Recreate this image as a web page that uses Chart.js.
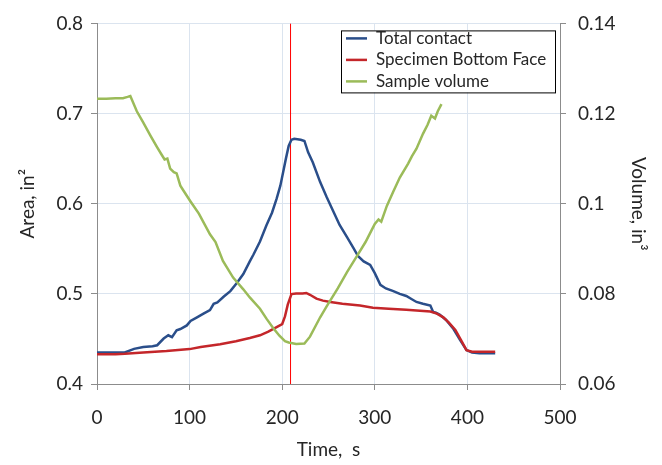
<!DOCTYPE html>
<html>
<head>
<meta charset="utf-8">
<script src="https://cdn.jsdelivr.net/npm/chart.js@4.4.1/dist/chart.umd.min.js"></script>
<style>
html,body{margin:0;padding:0;background:#fff;}
#wrap{width:662px;height:465px;}
</style>
</head>
<body>
<div id="wrap"><canvas id="c" width="662" height="465"></canvas></div>
<script>
// ---- data ----
const contactTime = [0,10,20,30,40,50,60,65,72,77,81,86,90,97,101,108,115,122,126,130,137,144,151,158,165,169,176,183,189,194,198,201,204,207,210,213,220,224,228,233,241,248,255,262,270,277,282,288,295,300,306,312,320,327,334,340,345,352,360,363,366,370,377,385,392,399,405,413,420,430];
const contactArea = [0.435,0.435,0.435,0.435,0.439,0.441,0.442,0.443,0.4504,0.454,0.452,0.4595,0.461,0.465,0.470,0.474,0.478,0.482,0.489,0.4905,0.497,0.503,0.512,0.522,0.536,0.5436,0.558,0.576,0.590,0.6056,0.620,0.635,0.650,0.664,0.671,0.672,0.671,0.6696,0.657,0.646,0.624,0.6075,0.592,0.5764,0.563,0.5508,0.5417,0.536,0.532,0.523,0.510,0.506,0.503,0.500,0.4976,0.494,0.491,0.489,0.487,0.480,0.479,0.477,0.471,0.461,0.449,0.4376,0.435,0.434,0.434,0.434];

const bottomTime = [0,20,30,50,75,100,112,133,150,165,176,185,192,200,203,206,210,215,222,226,230,237,244,252,265,284,298,315,334,345,360,367,374,380,387,394,399,405,413,430];
const bottomArea = [0.433,0.433,0.4335,0.435,0.4365,0.4387,0.441,0.444,0.4475,0.451,0.454,0.458,0.462,0.4665,0.475,0.488,0.4997,0.5005,0.5005,0.501,0.499,0.4947,0.4925,0.491,0.489,0.487,0.4846,0.4835,0.4824,0.4815,0.4803,0.478,0.474,0.468,0.460,0.447,0.4376,0.4357,0.4357,0.4357];

const volumeTime = [0,10,20,28,33,36,43,50,58,65,70,73,76,79,83,86,90,94,101,110,122,128,136,147,158,165,176,183,190,197,203,207,215,224,230,241,248,260,270,282,290,297,300,304,307,313,320,327,336,340,345,352,357,361,365,368,372];
const volumeValues = [0.1233,0.1233,0.1234,0.1234,0.1237,0.1239,0.1205,0.118,0.115,0.1125,0.1108,0.1098,0.1100,0.1078,0.107,0.1067,0.104,0.1027,0.1005,0.0978,0.0932,0.0915,0.0873,0.0836,0.081,0.0792,0.0767,0.0745,0.0725,0.0707,0.0695,0.0692,0.0689,0.069,0.0705,0.0748,0.0772,0.0812,0.0848,0.0888,0.0915,0.0943,0.0955,0.0965,0.096,0.0995,0.1027,0.1058,0.1089,0.1105,0.1122,0.1155,0.1175,0.1195,0.1189,0.1205,0.1221];

const markerTime = 209;
const timeTicks = [0,100,200,300,400,500];
const areaTicks = [0.4,0.5,0.6,0.7,0.8];
const volumeTicks = [0.06,0.08,0.10,0.12,0.14];
const seriesLabels = ['Total contact','Specimen Bottom Face','Sample volume'];

// ---- styles ----
const FONT = 'Lato, "Open Sans", sans-serif';
const TXT = '#262626';
const GRID = '#dbe4ef';
const AXIS = '#8c8c8c';
const colors = ['#2a4e8a','#c4262a','#9bbb59'];

function pts(xs, ys){ return xs.map((x,i)=>({x:x,y:ys[i]})); }
function fmt(v){ return String(Number(v.toFixed(2))); }

const legendPlugin = {
  id:'boxLegend',
  afterDatasetsDraw(chart){
    const ctx = chart.ctx, ca = chart.chartArea;
    const x0 = ca.left + 244, y0 = ca.top + 7, w = 214, h = 62;
    ctx.save();
    ctx.fillStyle = '#fff';
    ctx.fillRect(x0, y0, w, h);
    ctx.strokeStyle = '#000'; ctx.lineWidth = 1;
    ctx.strokeRect(x0+0.5, y0+0.5, w, h);
    ctx.font = '17px ' + FONT;
    ctx.textBaseline = 'middle';
    for (let i=0;i<3;i++){
      const yy = y0 + 8 + i*21.5;
      ctx.strokeStyle = colors[i]; ctx.lineWidth = 2.5;
      ctx.beginPath(); ctx.moveTo(x0+5, yy); ctx.lineTo(x0+26, yy); ctx.stroke();
      ctx.fillStyle = TXT;
      ctx.fillText(seriesLabels[i], x0+35, yy);
    }
    ctx.restore();
  }
};

new Chart(document.getElementById('c'), {
  type:'line',
  data:{
    datasets:[
      {label:seriesLabels[2], data:pts(volumeTime, volumeValues), yAxisID:'yVol', borderColor:colors[2], borderWidth:2.5, pointRadius:0, tension:0},
      {label:seriesLabels[1], data:pts(bottomTime, bottomArea), yAxisID:'y', borderColor:colors[1], borderWidth:2.5, pointRadius:0, tension:0},
      {label:seriesLabels[0], data:pts(contactTime, contactArea), yAxisID:'y', borderColor:colors[0], borderWidth:2.5, pointRadius:0, tension:0},
      {label:'marker', data:[{x:markerTime,y:areaTicks[0]},{x:markerTime,y:areaTicks[areaTicks.length-1]}], yAxisID:'y', borderColor:'#ff0000', borderWidth:1, pointRadius:0, tension:0}
    ]
  },
  options:{
    responsive:false, animation:false, devicePixelRatio:1,
    layout:{padding:{top:20,left:0,right:0,bottom:0}},
    plugins:{legend:{display:false}, tooltip:{enabled:false}},
    scales:{
      x:{
        type:'linear', min:0, max:500,
        afterBuildTicks(s){ s.ticks = timeTicks.map(v=>({value:v})); },
        afterFit(s){ s.height = 81; },
        grid:{color:GRID, tickColor:AXIS, tickLength:6, lineWidth:1},
        border:{color:AXIS, width:1},
        ticks:{color:TXT, font:{family:FONT, size:19}, padding:16, maxRotation:0},
        title:{display:true, text:'Time,  s', color:TXT, font:{family:FONT, size:19}, padding:{top:0,bottom:4}}
      },
      y:{
        position:'left', min:0.4, max:0.8,
        afterBuildTicks(s){ s.ticks = areaTicks.map(v=>({value:v})); },
        afterFit(s){ s.width = 97; },
        grid:{color:GRID, tickColor:AXIS, tickLength:6, lineWidth:1},
        border:{color:AXIS, width:1},
        ticks:{color:TXT, font:{family:FONT, size:19}, padding:8, callback:v=>fmt(v)},
        title:{display:true, text:'Area, in²', color:TXT, font:{family:FONT, size:19}, padding:{top:16,bottom:0}}
      },
      yVol:{
        position:'right', min:0.06, max:0.14,
        afterBuildTicks(s){ s.ticks = volumeTicks.map(v=>({value:v})); },
        afterFit(s){ s.width = 102; },
        grid:{drawOnChartArea:false, tickColor:AXIS, tickLength:6},
        border:{color:AXIS, width:1},
        ticks:{color:TXT, font:{family:FONT, size:19}, padding:12, callback:v=>fmt(v)},
        title:{display:true, text:'Volume, in³', color:TXT, font:{family:FONT, size:19}, padding:{top:12,bottom:0}}
      }
    }
  },
  plugins:[legendPlugin]
});
</script>
</body>
</html>
